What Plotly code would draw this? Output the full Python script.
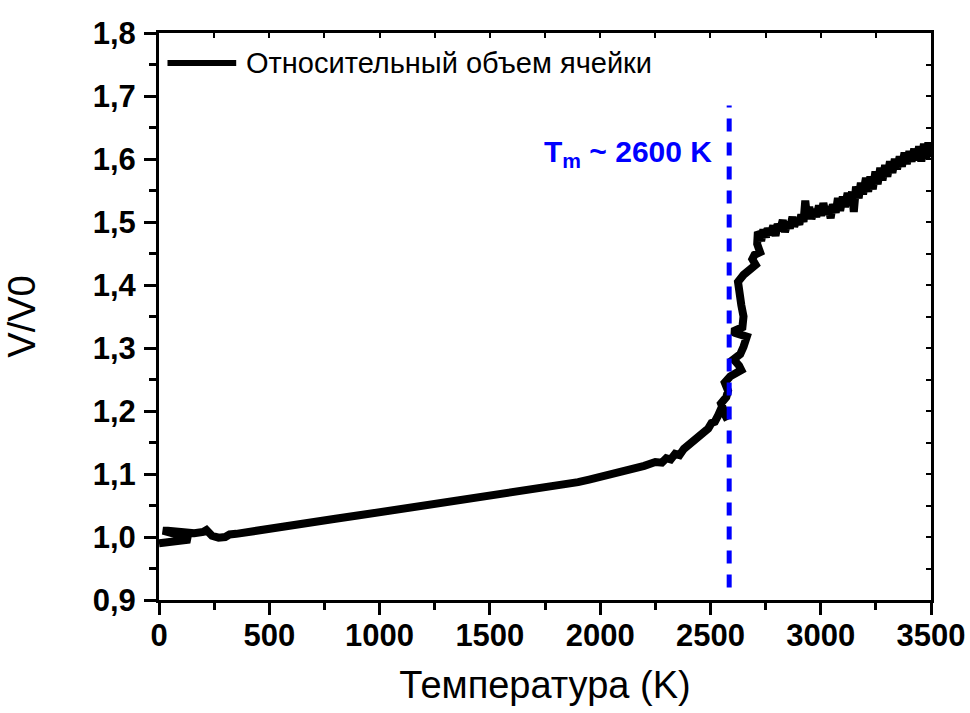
import plotly.graph_objects as go

# ---- data ----
temperature = [0, 40, 90, 140, 120, 70, 25, 18, 40, 100, 160, 200, 215, 240, 270, 300, 320, 350, 400,
               500, 600, 700, 800, 900, 1000, 1100, 1200, 1300, 1400, 1500, 1600, 1700, 1750, 1800, 1850,
               1900, 1950, 2000, 2050, 2100, 2150, 2200, 2250, 2280, 2300, 2320, 2340, 2360, 2380, 2400,
               2420, 2440, 2460, 2475, 2490, 2505, 2520, 2535, 2550, 2578, 2560, 2548, 2572, 2580, 2565,
               2590, 2640, 2630, 2605, 2635, 2650, 2665, 2610, 2600, 2645, 2650, 2640, 2630, 2625, 2650,
               2670, 2705, 2690, 2700, 2725, 2712, 2715,
               2720, 2730, 2740, 2752, 2760, 2772, 2785, 2795, 2805, 2815, 2828, 2838, 2850, 2860, 2872,
               2880, 2892, 2903, 2912, 2922, 2930, 2938, 2948, 2958, 2970, 2980, 2992, 3002, 3012, 3022,
               3035, 3045, 3055, 3068, 3078, 3088, 3100, 3110, 3122, 3132, 3142, 3150, 3160, 3172, 3182,
               3192, 3205, 3215, 3225, 3236, 3248, 3258, 3270, 3280, 3292, 3302, 3314, 3325, 3336, 3346,
               3358, 3368, 3380, 3390, 3402, 3412, 3424, 3434, 3446, 3456, 3468, 3478, 3488, 3496, 3500]
volume_ratio = [0.990, 0.991, 0.993, 0.996, 1.000, 1.005, 1.009, 1.010, 1.010, 1.008, 1.006, 1.008, 1.011,
                1.002, 0.999, 1.000, 1.004, 1.005, 1.008,
                1.013, 1.018, 1.023, 1.029, 1.034, 1.039, 1.044, 1.049, 1.054, 1.059, 1.064, 1.069, 1.074,
                1.077, 1.081, 1.084, 1.087, 1.091, 1.095, 1.099, 1.104, 1.109, 1.113, 1.119, 1.118, 1.125,
                1.123, 1.132, 1.130, 1.140, 1.146, 1.148, 1.158, 1.160, 1.168, 1.172, 1.181, 1.183, 1.193,
                1.205, 1.186, 1.200, 1.212, 1.222, 1.232, 1.245, 1.255, 1.265, 1.272, 1.282, 1.290, 1.302,
                1.318, 1.324, 1.326, 1.333, 1.350, 1.368, 1.385, 1.405, 1.416, 1.421, 1.432, 1.441, 1.448,
                1.452, 1.465, 1.484,
                1.482, 1.470, 1.488, 1.476, 1.490, 1.480, 1.494, 1.478, 1.497, 1.486, 1.503, 1.484, 1.500,
                1.490, 1.508, 1.493, 1.504, 1.496, 1.512, 1.500, 1.534, 1.508, 1.524, 1.505, 1.520, 1.508,
                1.526, 1.510, 1.530, 1.512, 1.524, 1.506, 1.528, 1.515, 1.538, 1.518, 1.540, 1.524, 1.546,
                1.528, 1.548, 1.516, 1.556, 1.538, 1.562, 1.544, 1.570, 1.548, 1.572, 1.552, 1.580, 1.560,
                1.586, 1.566, 1.590, 1.572, 1.596, 1.578, 1.600, 1.584, 1.604, 1.588, 1.610, 1.592, 1.612,
                1.596, 1.616, 1.598, 1.620, 1.596, 1.624, 1.600, 1.626, 1.604, 1.615]

series_name = "Относительный объем ячейки"
melt_line_T = 2585
melt_line_v = [0.92, 1.685]
melt_label = "T<sub>m</sub> ~ 2600 K"

x_tick_vals = [0, 500, 1000, 1500, 2000, 2500, 3000, 3500]
x_tick_text = ["0", "500", "1000", "1500", "2000", "2500", "3000", "3500"]
y_tick_vals = [0.9, 1.0, 1.1, 1.2, 1.3, 1.4, 1.5, 1.6, 1.7, 1.8]
y_tick_text = ["0,9", "1,0", "1,1", "1,2", "1,3", "1,4", "1,5", "1,6", "1,7", "1,8"]

FONT = "Liberation Sans, Arial, sans-serif"

fig = go.Figure()
fig.add_trace(go.Scatter(
    x=temperature, y=volume_ratio, mode="lines", name=series_name,
    line=dict(color="black", width=8), showlegend=False,
))
# invisible trace to create the mirrored-tick overlay axes
fig.add_trace(go.Scatter(x=[None], y=[None], xaxis="x2", yaxis="y2",
                         mode="lines", showlegend=False, hoverinfo="skip"))

tick_font = dict(family=FONT, size=31, color="black", weight="bold")

fig.update_layout(
    width=970, height=713,
    margin=dict(l=159, r=39, t=33, b=113),
    paper_bgcolor="white", plot_bgcolor="white",
    showlegend=False,
    xaxis=dict(
        range=[0, 3500], tickvals=x_tick_vals, ticktext=x_tick_text,
        showline=True, linecolor="black", linewidth=3, mirror=True,
        ticks="outside", ticklen=12, tickwidth=3, tickcolor="black",
        minor=dict(dtick=250, ticks="outside", ticklen=7, tickwidth=3, tickcolor="black", showgrid=False),
        showgrid=False, zeroline=False, tickfont=tick_font, ticklabelstandoff=-6,
        title=dict(text="Температура (K)", font=dict(family=FONT, size=38, color="black"), standoff=20),
        automargin=False,
    ),
    yaxis=dict(
        range=[0.9, 1.8], tickvals=y_tick_vals, ticktext=y_tick_text,
        showline=True, linecolor="black", linewidth=3, mirror=True,
        ticks="outside", ticklen=12, tickwidth=3, tickcolor="black",
        minor=dict(dtick=0.05, ticks="outside", ticklen=7, tickwidth=3, tickcolor="black", showgrid=False),
        showgrid=False, zeroline=False, tickfont=tick_font, ticklabelstandoff=2,
        title=dict(text="V/V0", font=dict(family=FONT, size=38, color="black"), standoff=46),
        automargin=False,
    ),
    xaxis2=dict(
        overlaying="x", side="top", range=[0, 3500], dtick=250, tick0=0,
        ticks="inside", ticklen=5, tickwidth=2, tickcolor="black",
        showticklabels=False, showgrid=False, zeroline=False, showline=False,
    ),
    yaxis2=dict(
        overlaying="y", side="right", range=[0.9, 1.8], dtick=0.05, tick0=0.9,
        ticks="inside", ticklen=5, tickwidth=2, tickcolor="black",
        showticklabels=False, showgrid=False, zeroline=False, showline=False,
    ),
)

# melting temperature marker
fig.add_shape(type="line", xref="x", yref="y",
              x0=melt_line_T, x1=melt_line_T, y0=melt_line_v[0], y1=melt_line_v[1],
              line=dict(color="#0000FF", width=5, dash="13px,11px"))
fig.add_annotation(x=2515, y=1.608, xref="x", yref="y", xanchor="right", yanchor="middle",
                   text=melt_label, showarrow=False,
                   font=dict(family=FONT, size=30, color="#0000FF", weight="bold"))

# legend (drawn as line sample + label)
fig.add_shape(type="line", xref="paper", yref="paper",
              x0=0.011, x1=0.1, y0=0.947, y1=0.947,
              line=dict(color="black", width=6))
fig.add_annotation(x=0.11, y=0.947, xref="paper", yref="paper", xanchor="left", yanchor="middle",
                   text=series_name, showarrow=False,
                   font=dict(family=FONT, size=29, color="black"))

fig.write_html("out.html")
